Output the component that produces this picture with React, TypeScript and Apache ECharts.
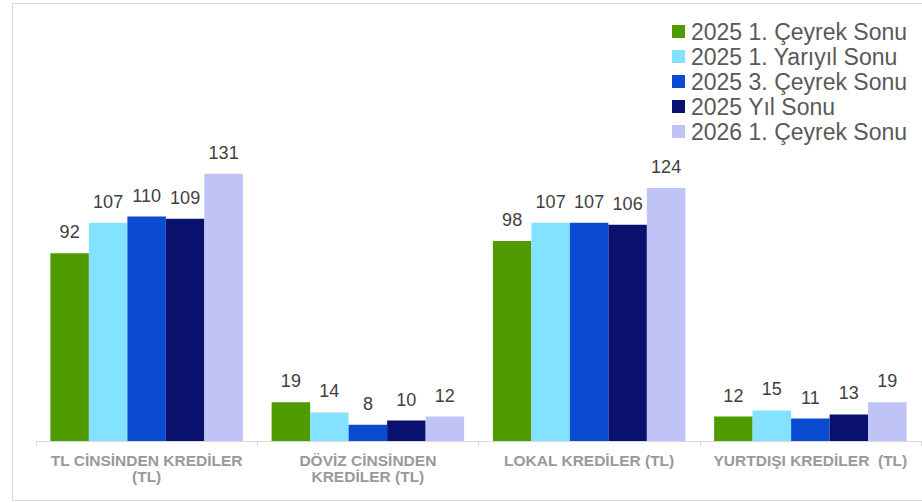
import React, { useEffect, useRef } from "react";
import * as echarts from "echarts";

const categories = [
  "TL CİNSİNDEN KREDİLER\n(TL)",
  "DÖVİZ CİNSİNDEN\nKREDİLER (TL)",
  "LOKAL KREDİLER (TL)",
  "YURTDIŞI KREDİLER  (TL)",
];
const seriesNames = [
  "2025 1. Çeyrek Sonu",
  "2025 1. Yarıyıl Sonu",
  "2025 3. Çeyrek Sonu",
  "2025 Yıl Sonu",
  "2026 1. Çeyrek Sonu",
];
const q1_2025 = [92, 19, 98, 12];
const h1_2025 = [107, 14, 107, 15];
const q3_2025 = [110, 8, 107, 11];
const ye_2025 = [109, 10, 106, 13];
const q1_2026 = [131, 12, 124, 19];
const seriesValues = [q1_2025, h1_2025, q3_2025, ye_2025, q1_2026];
const colors = ["#4E9A00", "#82E2FF", "#0A4BD2", "#0A106E", "#C0C3F5"];

export default function App() {
  const ref = useRef<HTMLDivElement>(null);
  useEffect(() => {
    document.body.style.margin = "0";
    const chart = echarts.init(ref.current!, undefined, { renderer: "svg" });
    chart.setOption({
      animation: false,
      backgroundColor: "#ffffff",
      textStyle: { fontFamily: "Liberation Sans, Arial, sans-serif" },
      graphic: [
        {
          type: "rect",
          shape: { x: 12.5, y: 3.5, width: 930, height: 497 },
          style: { fill: "none", stroke: "#d9d9d9", lineWidth: 1 },
          silent: true,
        },
      ],
      legend: {
        orient: "vertical",
        left: 672,
        top: 19,
        padding: 0,
        itemWidth: 13,
        itemHeight: 13,
        itemGap: 0,
        icon: "rect",
        data: seriesNames,
        textStyle: {
          fontSize: 23,
          color: "#595959",
          lineHeight: 25,
          padding: [0, 0, 0, 1],
        },
      },
      grid: { left: 36, right: 1, top: 135, bottom: 62, containLabel: false },
      xAxis: {
        type: "category",
        data: categories,
        axisLine: { lineStyle: { color: "#d9d9d9", width: 1 } },
        axisTick: { show: true, length: 5, lineStyle: { color: "#d9d9d9" } },
        axisLabel: {
          color: "#999999",
          fontWeight: "bold",
          fontSize: 15.5,
          lineHeight: 16,
          margin: 11,
          interval: 0,
        },
      },
      yAxis: {
        type: "value",
        min: 0,
        max: 150,
        show: false,
        splitLine: { show: false },
      },
      series: seriesValues.map((vals, i) => ({
        name: seriesNames[i],
        type: "bar",
        data: vals,
        barGap: "0%",
        barCategoryGap: "13%",
        itemStyle: { color: colors[i] },
        label: {
          show: true,
          position: "top",
          distance: 12,
          fontSize: 18,
          color: "#404040",
        },
      })),
    });
    return () => chart.dispose();
  }, []);
  return (
    <div
      ref={ref}
      style={{ width: 922, height: 503, position: "absolute", left: 0, top: 0 }}
    />
  );
}
